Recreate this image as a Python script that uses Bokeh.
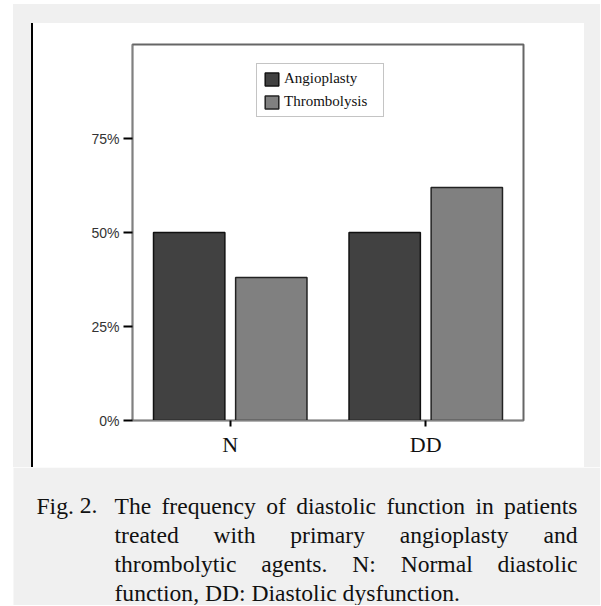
from bokeh.plotting import figure
from bokeh.layouts import column, row
from bokeh.models import (ColumnDataSource, FactorRange, Range1d, FixedTicker,
                          NumeralTickFormatter, Legend, LegendItem, BoxAnnotation, Div)
from bokeh.core.properties import value
from bokeh.transform import dodge
from bokeh.embed import file_html
from bokeh.resources import INLINE

# ---------------- data ----------------
categories = ["N", "DD"]
angioplasty = [0.50, 0.50]
thrombolysis = [0.38, 0.62]
series_names = ["Angioplasty", "Thrombolysis"]
y_ticks = [0, 0.25, 0.50, 0.75]

caption_label = ["Fig.", "2."]
caption_lines = [
    ["The", "frequency", "of", "diastolic", "function", "in", "patients"],
    ["treated", "with", "primary", "angioplasty", "and"],
    ["thrombolytic", "agents.", "N:", "Normal", "diastolic"],
    ["function,", "DD:", "Diastolic", "dysfunction."],
]

GREY = "#f0f0f0"

# ---------------- chart ----------------
CW, CH = 551, 444
src = ColumnDataSource(dict(cat=categories, a=angioplasty, t=thrombolysis))

p = figure(width=CW, height=CH, x_range=FactorRange(factors=categories, range_padding=0),
           y_range=Range1d(0, 1.0), output_backend="svg", toolbar_location=None,
           min_border_left=99, min_border_right=61, min_border_top=21, min_border_bottom=47)
p.border_fill_color = "white"
p.background_fill_color = "white"
p.outline_line_color = "#666666"
p.outline_line_width = 2
p.xgrid.visible = False
p.ygrid.visible = False

r1 = p.vbar(x=dodge("cat", -0.21, range=p.x_range), top="a", width=0.365, source=src,
            fill_color="#414141", line_color="#111111", line_width=1.5)
r2 = p.vbar(x=dodge("cat", 0.21, range=p.x_range), top="t", width=0.365, source=src,
            fill_color="#808080", line_color="#222222", line_width=1.5)

p.yaxis.ticker = FixedTicker(ticks=y_ticks)
p.yaxis.formatter = NumeralTickFormatter(format="0%")
p.yaxis.axis_line_color = "#808080"
p.yaxis.major_tick_line_color = "black"
p.yaxis.major_tick_line_width = 2
p.yaxis.major_tick_out = 9
p.yaxis.major_tick_in = 0
p.yaxis.minor_tick_line_color = None
p.yaxis.major_label_standoff = 4
p.yaxis.major_label_text_font = "Liberation Sans"
p.yaxis.major_label_text_font_size = "14px"
p.yaxis.major_label_text_color = "#333333"

p.xaxis.axis_line_color = "#808080"
p.xaxis.major_tick_line_color = "black"
p.xaxis.major_tick_line_width = 2
p.xaxis.major_tick_out = 6
p.xaxis.major_tick_in = 0
p.xaxis.major_label_standoff = 5
p.xaxis.major_label_text_font = "Liberation Serif"
p.xaxis.major_label_text_font_size = "22px"
p.xaxis.major_label_text_color = "#111111"

legend = Legend(items=[LegendItem(label=series_names[0], renderers=[r1]),
                       LegendItem(label=series_names[1], renderers=[r2])],
                location=(124, 303), orientation="vertical",
                padding=6, margin=0, spacing=6, glyph_width=17, glyph_height=16,
                label_standoff=4, label_width=93,
                label_text_font="Liberation Serif", label_text_font_size="15px",
                label_text_color="#111111",
                border_line_color="#8a8a8a", border_line_width=1.5,
                background_fill_color="white", background_fill_alpha=1)
p.add_layout(legend)

# ---------------- surrounding grey panels (plain HTML boxes) ----------------
TW = 600
top = Div(text="", width=TW, height=23, margin=0,
          styles={"background": f"linear-gradient(to bottom, white 4px, transparent 4px), "
                                f"linear-gradient(to right, white 13px, {GREY} 13px)"})
left = Div(text="", width=33, height=CH, margin=0,
           styles={"background": f"linear-gradient(to right, white 13px, {GREY} 13px, "
                                 f"{GREY} 31.5px, black 31.5px)"})
right = Div(text="", width=16, height=CH, margin=0, styles={"background": GREY})

# ---------------- caption (justified with Times metrics) ----------------
CAP_H = 138
cap = figure(width=TW, height=CAP_H, x_range=Range1d(0, TW), y_range=Range1d(CAP_H, 0),
             output_backend="svg", toolbar_location=None, min_border=0)
cap.axis.visible = False
cap.grid.visible = False
cap.outline_line_color = None
cap.background_fill_color = "white"
cap.border_fill_color = "white"
cap.add_layout(BoxAnnotation(left=13, right=TW, top=0, bottom=CAP_H, fill_color=GREY,
                             fill_alpha=1, line_alpha=0, level="underlay"))

WID = {'a': 444, 'b': 500, 'c': 444, 'd': 500, 'e': 444, 'f': 333, 'g': 500, 'h': 500,
       'i': 278, 'j': 278, 'k': 500, 'l': 278, 'm': 778, 'n': 500, 'o': 500, 'p': 500,
       'q': 500, 'r': 333, 's': 389, 't': 278, 'u': 500, 'v': 500, 'w': 722, 'x': 500,
       'y': 500, 'z': 444, 'A': 722, 'D': 722, 'F': 556, 'N': 722, 'T': 611,
       '0': 500, '1': 500, '2': 500, '.': 250, ',': 250, ':': 278, ' ': 250}
FS = 23.6


def tw(s):
    return sum(WID.get(c, 500) for c in s) / 1000.0 * FS


X0, XI, XR = 36, 114, 577
baselines = [38, 67, 96, 125]
wx, wy, wt = [], [], []

x = X0
for w in caption_label:
    wx.append(x); wy.append(baselines[0]); wt.append(w)
    x += tw(w + " ")

for i, words in enumerate(caption_lines):
    last = i == len(caption_lines) - 1
    total = sum(tw(w) for w in words)
    gap = tw(" ") if last else (XR - XI - total) / (len(words) - 1)
    x = XI
    for w in words:
        wx.append(x); wy.append(baselines[i]); wt.append(w)
        x += tw(w) + gap

cap.text(x="x", y="y", text="t", source=ColumnDataSource(dict(x=wx, y=wy, t=wt)),
         text_font=value("Liberation Serif"), text_font_size=value(f"{FS}px"),
         text_color="#111111", text_baseline="alphabetic", text_align="left")

layout = column(top, row(left, p, right, spacing=0), cap, spacing=0)

open("out.html", "w").write(file_html(layout, INLINE))
